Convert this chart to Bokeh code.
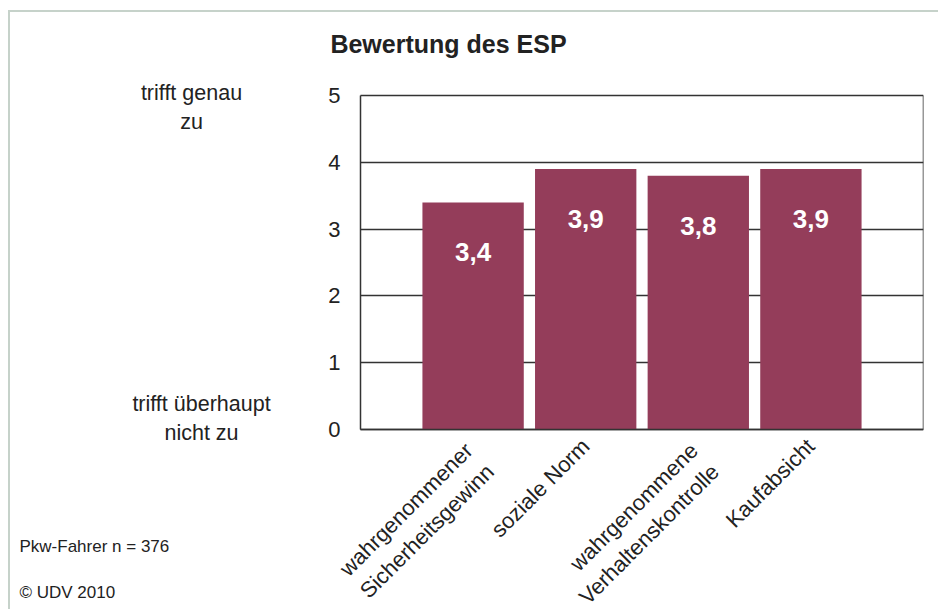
import math
from bokeh.plotting import figure
from bokeh.models import FixedTicker, Label, Range1d, ColumnDataSource, LinearAxis
from bokeh.core.properties import value
from bokeh.embed import file_html
from bokeh.resources import INLINE

# ---- data ----
categories = ["wahrgenommener\nSicherheitsgewinn", "soziale Norm",
              "wahrgenommene\nVerhaltenskontrolle", "Kaufabsicht"]
positions = [1, 2, 3, 4]
values = [3.4, 3.9, 3.8, 3.9]
value_labels = ["3,4", "3,9", "3,8", "3,9"]
y_ticks = [0, 1, 2, 3, 4, 5]
title_text = "Bewertung des ESP"
scale_top = "trifft genau\nzu"
scale_bottom = "trifft überhaupt\nnicht zu"
note_sample = "Pkw-Fahrer n = 376"
note_copyright = "© UDV 2010"

# ---- style ----
FONT = "Liberation Sans"
BAR = "#943d5a"
INK = "#222222"
LINE = "#333333"
EDGE = "#c6d2ca"

W, H = 938, 609
FX0, FX1, FY0, FY1 = 360.0, 923.0, 429.0, 95.0   # chart box in page pixels
FRAME_L, FRAME_T = 318.0, 84.0                    # canvas frame reaches a bit further so tick labels show
PXX = (FX1 - FX0) / 5.0
PXY = (FY0 - FY1) / 5.0

bg = ("linear-gradient({c},{c}) 8px 10px / 100% 2px no-repeat, "
      "linear-gradient({c},{c}) 8px 10px / 2px 100% no-repeat, #ffffff").format(c=EDGE)

p = figure(width=W, height=H,
           x_range=Range1d((FRAME_L - FX0) / PXX, 5),
           y_range=Range1d(-(H - FY0) / PXY, 5 + (FY1 - FRAME_T) / PXY),
           output_backend="svg", toolbar_location=None,
           min_border_left=int(FRAME_L), min_border_right=int(W - FX1),
           min_border_top=int(FRAME_T), min_border_bottom=0,
           styles={"background": bg})
p.border_fill_color = None
p.background_fill_color = "white"
p.outline_line_color = None
p.grid.visible = False

src = ColumnDataSource(dict(x=positions, top=values, lab=value_labels))
p.vbar(x="x", top="top", width=0.9, bottom=0, source=src,
       fill_color=BAR, line_color=None)
p.text(x="x", y="top", text="lab", source=src, y_offset=50,
       text_align="center", text_baseline="middle",
       text_color="white", text_font=value(FONT), text_font_style="bold",
       text_font_size="26px")

# x axis: each label block gets a blank first line so the first text line
# sits at the anchor (top-right anchoring like the original)
def tick_block(cat):
    lines = cat.split("\n")
    if len(lines) == 1:
        return "\n".join([" ", lines[0], " "])
    return "\n".join([" "] + [ln + " " for ln in lines])

xa = p.xaxis[0]
xa.ticker = FixedTicker(ticks=positions)
xa.major_label_overrides = {pos: tick_block(cat) for pos, cat in zip(positions, categories)}
xa.major_label_orientation = math.pi / 4
xa.major_label_text_font = FONT
xa.major_label_text_font_size = "22px"
xa.major_label_text_color = INK
xa.major_label_standoff = 13
xa.fixed_location = 0
xa.bounds = (0, 5)

ya = p.yaxis[0]
ya.ticker = FixedTicker(ticks=y_ticks)
ya.major_label_text_font = FONT
ya.major_label_text_font_size = "22px"
ya.major_label_text_color = INK
ya.major_label_standoff = 20
ya.fixed_location = 0
ya.bounds = (0, 5)

for ax in (xa, ya):
    ax.axis_line_color = LINE
    ax.axis_line_width = 1.5
    ax.major_tick_line_color = None
    ax.minor_tick_line_color = None
    ax.major_tick_out = 0
    ax.major_tick_in = 0

# right axis: its line is the right edge of the box, its inward ticks are the gridlines
ra = LinearAxis(ticker=FixedTicker(ticks=y_ticks), bounds=(0, 5),
                major_tick_in=int(FX1 - FX0), major_tick_out=0,
                major_tick_line_color=LINE, major_tick_line_width=1.3,
                minor_tick_line_color=None,
                axis_line_color=LINE, axis_line_width=1.5,
                major_label_overrides={t: "" for t in y_ticks},
                major_label_text_alpha=0, major_label_standoff=0,
                level="underlay")
p.add_layout(ra, "right")

# pixel -> data helpers for annotations outside the box
def dx(px):
    return (px - FX0) / PXX
def dy(py):
    return (FY0 - py) / PXY

def add_label(text, px, py, size, side, align="center", style="normal"):
    p.add_layout(Label(x=dx(px), y=dy(py), text=text, text_font=FONT,
                       text_font_size=size, text_color=INK, text_font_style=style,
                       text_align=align, text_baseline="middle",
                       text_line_height=1.2), side)

add_label(title_text, 448, 43, "25px", "above", style="bold")
add_label(note_sample, 19, 546, "17px", "above", align="left")
add_label(note_copyright, 19, 592, "17px", "above", align="left")
add_label(scale_top, 191, 107, "21.5px", "left")
add_label(scale_bottom, 201, 418, "21.5px", "left")

open("out.html", "w").write(file_html(p, INLINE))
